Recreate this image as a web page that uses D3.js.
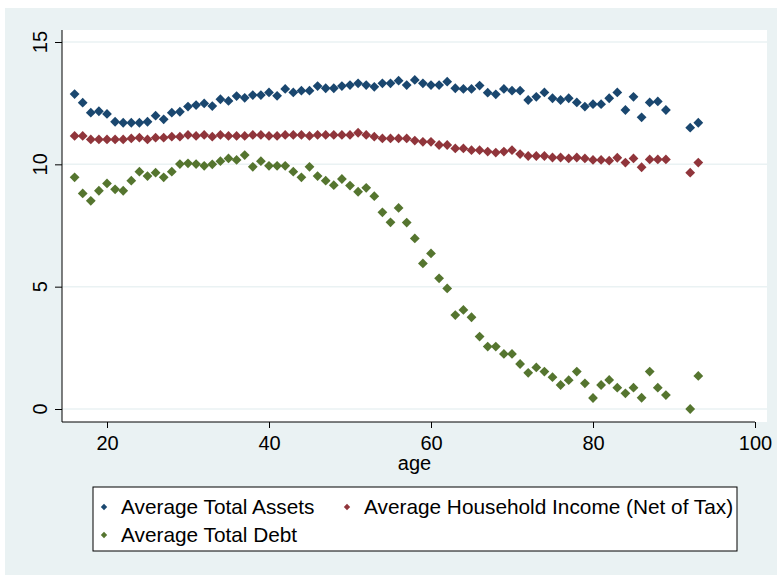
<!DOCTYPE html>
<html>
<head>
<meta charset="utf-8">
<script src="https://cdn.jsdelivr.net/npm/d3@7"></script>
<style>
  body { margin: 0; background: #fff; }
  text { font-family: "Liberation Sans", Arial, sans-serif; fill: #000; }
</style>
</head>
<body>
<svg id="chart"></svg>
<script>
const width = 777;
const height = 575;

// age groups (no observations at 90, 91)
const ages = [16,17,18,19,20,21,22,23,24,25,26,27,28,29,30,31,32,33,34,35,36,37,38,39,40,
  41,42,43,44,45,46,47,48,49,50,51,52,53,54,55,56,57,58,59,60,61,62,63,64,65,66,67,68,69,70,
  71,72,73,74,75,76,77,78,79,80,81,82,83,84,85,86,87,88,89,92,93];

const assets = [12.87,12.52,12.11,12.17,12.06,11.74,11.70,11.70,11.70,11.74,11.99,11.84,12.11,12.15,12.36,
  12.42,12.49,12.38,12.66,12.59,12.79,12.72,12.83,12.83,12.94,12.80,13.08,12.94,13.01,13.01,
  13.20,13.11,13.11,13.20,13.24,13.31,13.24,13.17,13.31,13.31,13.42,13.24,13.45,13.31,13.24,
  13.24,13.38,13.11,13.08,13.08,13.22,12.93,12.86,13.08,13.01,13.01,12.63,12.76,12.94,12.70,
  12.63,12.70,12.53,12.36,12.46,12.46,12.70,12.94,12.22,12.76,11.92,12.53,12.57,12.22,11.50,11.70];

const income = [11.16,11.16,11.02,11.02,11.02,11.02,11.02,11.06,11.09,11.02,11.09,11.09,11.13,11.13,11.20,
  11.16,11.20,11.13,11.20,11.16,11.16,11.16,11.20,11.20,11.16,11.16,11.20,11.20,11.20,11.16,
  11.20,11.20,11.20,11.20,11.20,11.29,11.20,11.13,11.06,11.06,11.06,11.06,10.97,10.92,10.92,
  10.79,10.79,10.65,10.65,10.58,10.58,10.52,10.48,10.52,10.58,10.42,10.34,10.34,10.34,10.28,
  10.28,10.24,10.28,10.24,10.18,10.18,10.15,10.27,10.07,10.24,9.88,10.20,10.20,10.20,9.66,10.07];

const debt = [9.47,8.81,8.51,8.92,9.22,8.98,8.92,9.33,9.70,9.52,9.66,9.47,9.70,10.01,10.04,
  10.01,9.94,10.00,10.13,10.24,10.18,10.38,9.90,10.13,9.94,9.94,9.94,9.70,9.47,9.90,
  9.52,9.33,9.15,9.40,9.13,8.88,9.04,8.70,8.04,7.63,8.22,7.62,6.97,5.95,6.36,
  5.34,4.93,3.84,4.05,3.75,2.96,2.55,2.55,2.25,2.25,1.84,1.48,1.70,1.53,1.30,
  0.98,1.18,1.53,1.05,0.45,0.98,1.19,0.87,0.64,0.87,0.46,1.53,0.87,0.57,0.00,1.35];

const seriesNames = ["Average Total Assets", "Average Household Income (Net of Tax)", "Average Total Debt"];
const seriesColors = ["#1a476f", "#90353b", "#55752f"];
const seriesValues = [assets, income, debt];

const xTicks = [20, 40, 60, 80, 100];
const yTicks = [0, 5, 10, 15];
const xTitle = "age";

const bg = "#eaf2f3";
const plot = { left: 62, right: 767, top: 30, bottom: 422 };

const svg = d3.select("#chart").attr("width", width).attr("height", height);

// outer graph region
svg.append("rect").attr("x", 5).attr("y", 8)
    .attr("width", width - 5).attr("height", height - 8).attr("fill", bg);

// plot region
svg.append("rect").attr("x", plot.left).attr("y", plot.top)
    .attr("width", plot.right - plot.left).attr("height", plot.bottom - plot.top)
    .attr("fill", "#fff");

const x = d3.scaleLinear().domain([20, 100]).range([107, 755]);
const y = d3.scaleLinear().domain([0, 15]).range([409, 42]);

// grid lines
svg.append("g").selectAll("line").data(yTicks).enter().append("line")
    .attr("x1", plot.left).attr("x2", plot.right)
    .attr("y1", d => y(d)).attr("y2", d => y(d))
    .attr("stroke", bg).attr("stroke-width", 1.5);

// y axis
const yAxis = svg.append("g").attr("transform", `translate(${plot.left},0)`)
    .call(d3.axisLeft(y).tickValues(yTicks).tickSize(7).tickPadding(0).tickFormat(d3.format("d")));
yAxis.select(".domain").remove();
yAxis.selectAll(".tick line").attr("stroke", "#000");
yAxis.selectAll(".tick text").remove();
yAxis.append("line").attr("x1", 0).attr("x2", 0)
    .attr("y1", plot.top).attr("y2", plot.bottom).attr("stroke", "#000");
svg.append("g").selectAll("text").data(yTicks).enter().append("text")
    .attr("transform", d => `translate(47,${y(d)}) rotate(-90)`)
    .attr("text-anchor", "middle")
    .style("font-size", "20px")
    .text(d => d);

// x axis
const xAxis = svg.append("g").attr("transform", `translate(0,${plot.bottom})`)
    .call(d3.axisBottom(x).tickValues(xTicks).tickSize(6).tickPadding(8).tickFormat(d3.format("d")));
xAxis.select(".domain").remove();
xAxis.append("line").attr("x1", plot.left).attr("x2", x(100))
    .attr("y1", 0).attr("y2", 0).attr("stroke", "#000");
xAxis.selectAll(".tick line").attr("stroke", "#000");
xAxis.selectAll(".tick text")
    .style("font-size", "20px").style("font-family", "'Liberation Sans', Arial, sans-serif")
    .attr("fill", "#000");

svg.append("text").attr("x", (plot.left + plot.right) / 2).attr("y", 470)
    .attr("text-anchor", "middle").style("font-size", "20px").text(xTitle);

// markers
const diamond = d3.symbol().type(d3.symbolSquare).size(48);
seriesValues.forEach((vals, i) => {
  svg.append("g").selectAll("path")
      .data(ages.map((a, j) => [a, vals[j]]))
      .enter().append("path")
      .attr("d", diamond)
      .attr("transform", d => `translate(${x(d[0])},${y(d[1])}) rotate(45)`)
      .attr("fill", seriesColors[i]);
});

// legend
const legend = svg.append("g");
legend.append("rect").attr("x", 93).attr("y", 487).attr("width", 644).attr("height", 64)
    .attr("fill", "#fff").attr("stroke", "#000").attr("stroke-width", 1);
const legendPos = [[104, 507], [347, 507], [104, 535]];
const smallDiamond = d3.symbol().type(d3.symbolSquare).size(20);
seriesNames.forEach((name, i) => {
  const [lx, ly] = legendPos[i];
  legend.append("path").attr("d", smallDiamond)
      .attr("transform", `translate(${lx},${ly}) rotate(45)`)
      .attr("fill", seriesColors[i]);
  legend.append("text").attr("x", lx + 17).attr("y", ly + 7)
      .style("font-size", "20.8px").text(name);
});
</script>
</body>
</html>
